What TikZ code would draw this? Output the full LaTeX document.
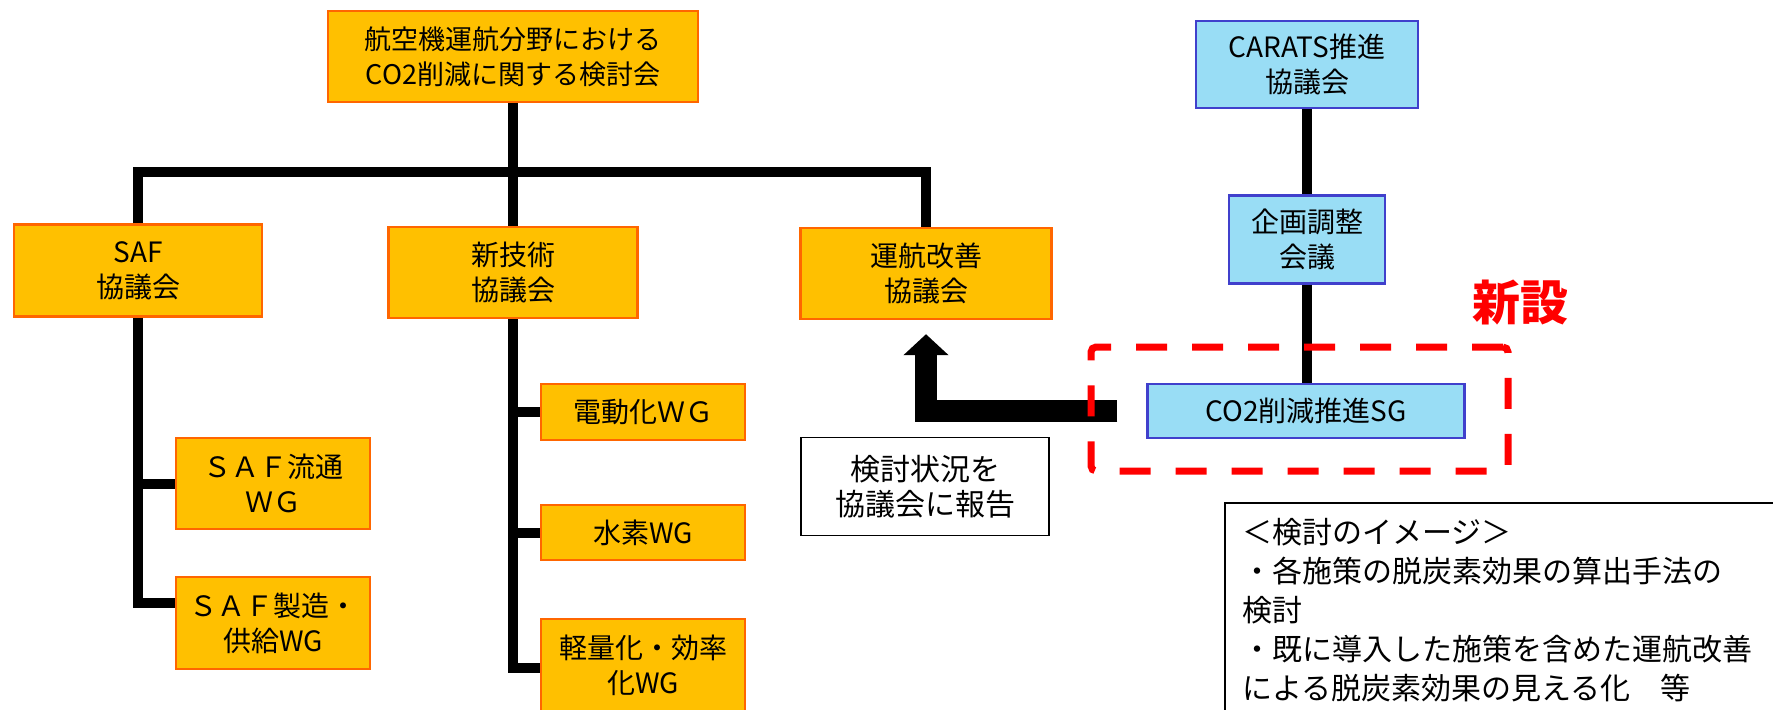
\documentclass[tikz,border=0pt]{standalone}
\usepackage{fontspec}
\setmainfont{Noto Sans CJK JP}
\usetikzlibrary{arrows.meta}
\definecolor{gold}{HTML}{FFC000}
\definecolor{obord}{HTML}{FF6600}
\definecolor{bfill}{HTML}{99DDF5}
\definecolor{bbord}{HTML}{4040CC}
\definecolor{dred}{HTML}{FF0000}
\tikzset{
  basebox/.style={inner sep=0pt, align=center, line width=1.2pt, font=\fontsize{14}{17.5}\selectfont},
  obox/.style={basebox, draw=obord, fill=gold},
  bbox/.style={basebox, draw=bbord, fill=bfill},
  wbox/.style={basebox, draw=black, fill=white, line width=0.9pt, font=\fontsize{15}{17.5}\selectfont},
  conn/.style={line width=5pt, line join=miter},
  bigarrow/.style={line width=11pt, line join=miter, -{Triangle[width=22pt,length=10.5pt]}},
  reddash/.style={draw=dred, line width=3.5pt, dash pattern=on 15.5pt off 12.5pt, rounded corners=2.5pt}
}
\begin{document}
\begin{tikzpicture}[x=0.5pt,y=-0.5pt]
\useasboundingbox (0,0) rectangle (1773,709);
% orange boxes
\node[obox, minimum width=185pt, minimum height=45.5pt, font=\fontsize{13.5}{17.5}\selectfont] (top) at (513,56.5) {航空機運航分野における\\CO2削減に関する検討会};
\node[obox, minimum width=124pt, minimum height=46pt] (saf) at (138,270.5) {SAF\\協議会};
\node[obox, minimum width=124.5pt, minimum height=45.5pt] (tech) at (513,272.5) {新技術\\協議会};
\node[obox, minimum width=125.5pt, minimum height=45.5pt] (ops) at (926,273.5) {運航改善\\協議会};
\node[obox, minimum width=97pt, minimum height=45.5pt] (saf1) at (273,483.5) {ＳＡＦ流通\\ＷＧ};
\node[obox, minimum width=97pt, minimum height=46pt] (saf2) at (273,623) {ＳＡＦ製造・\\供給WG};
\node[obox, minimum width=102pt, minimum height=28pt] (ev) at (643,412) {電動化ＷＧ};
\node[obox, minimum width=102pt, minimum height=27.5pt] (h2) at (643,532.5) {水素WG};
\node[obox, minimum width=102pt, minimum height=46pt] (light) at (643,665) {軽量化・効率\\化WG};
% blue boxes
\node[bbox, minimum width=111pt, minimum height=43.5pt] (carats) at (1307,64.5) {CARATS推進\\協議会};
\node[bbox, minimum width=78pt, minimum height=44pt] (kikaku) at (1307,239.5) {企画調整\\会議};
\node[bbox, minimum width=158.5pt, minimum height=27pt] (sg) at (1306,411) {CO2削減推進SG};
% report box
\node[wbox, minimum width=124pt, minimum height=49pt] (report) at (925,486.5) {検討状況を\\協議会に報告};
% connectors
\coordinate (bus) at (513,172);
\draw[conn] (top.south) -- (tech.north);
\draw[conn] (saf.north) |- (bus) -| (ops.north);
\draw[conn] (saf.south) |- ([yshift=10pt]saf2.west);
\draw[conn] (saf.south |- saf1.west) -- (saf1.west);
\draw[conn] (tech.south) |- ([yshift=-1.5pt]light.west);
\draw[conn] (tech.south |- ev.west) -- (ev.west);
\draw[conn] (tech.south |- h2.west) -- (h2.west);
\draw[conn] (carats.south) -- (kikaku.north);
\draw[conn] (kikaku.south) -- (kikaku.south |- sg.north);
% report arrow
\draw[bigarrow] ([xshift=-14.5pt]sg.west) -| ([yshift=-7pt]ops.south);
% new marker
\node[reddash, minimum width=208.5pt, minimum height=62pt] (newbox) at (1299.5,409) {};
\node[text=dred, inner sep=0pt, font=\fontsize{24}{24}\selectfont\bfseries] (shinsetsu) at (1520,303) {新設};
% image box
\draw[line width=1pt] (1225,503) rectangle (1800,740);
\node[anchor=north west, inner sep=0pt, align=left, font=\fontsize{15}{19.5}\selectfont] (image) at (1242,518)
  {＜検討のイメージ＞\\・各施策の脱炭素効果の算出手法の\\検討\\・既に導入した施策を含めた運航改善\\による脱炭素効果の見える化　等};
\end{tikzpicture}
\end{document}
